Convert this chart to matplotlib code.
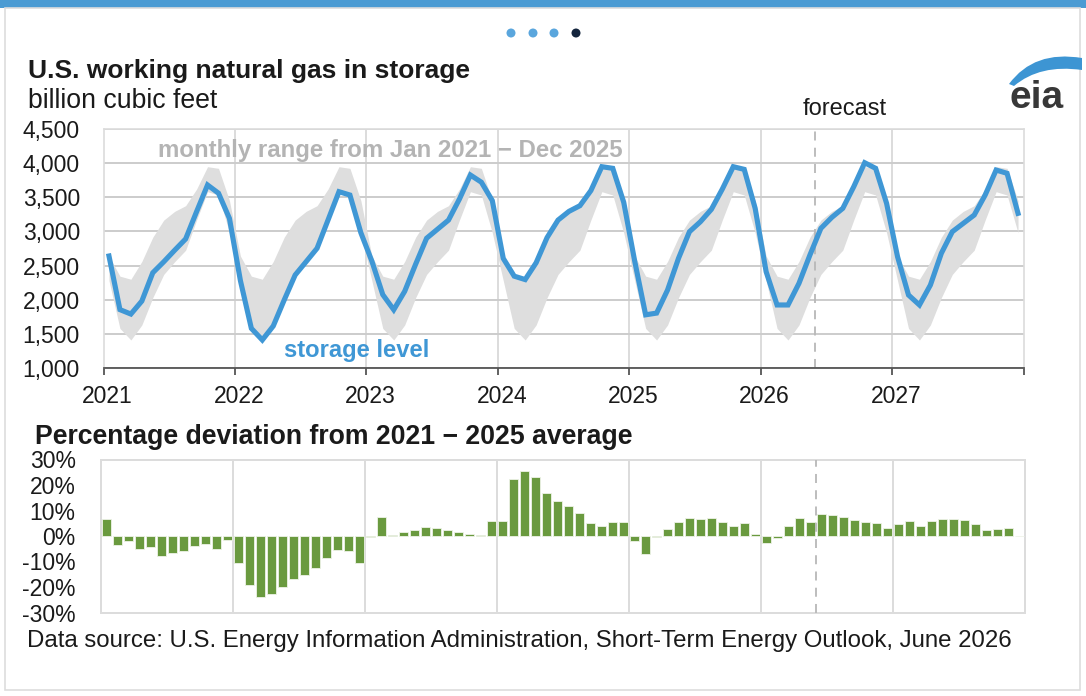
import matplotlib
matplotlib.use('Agg')
import matplotlib.pyplot as plt
import numpy as np
from matplotlib.patches import Rectangle, Circle, PathPatch
from matplotlib.path import Path
import matplotlib.transforms as mtransforms

plt.rcParams['font.family'] = ['Liberation Sans', 'DejaVu Sans']

# ---------------- data ----------------
years = [2021, 2022, 2023, 2024, 2025, 2026, 2027]
year_labels = ['2021', '2022', '2023', '2024', '2025', '2026', '2027']

storage_2021 = [2640, 1855, 1790, 1980, 2395, 2555, 2725, 2890, 3290, 3680, 3560, 3190]
storage_2022 = [2280, 1580, 1410, 1615, 1996, 2362, 2557, 2753, 3167, 3582, 3533, 2980]
storage_2023 = [2566, 2074, 1853, 2123, 2520, 2900, 3033, 3166, 3475, 3826, 3721, 3451]
storage_2024 = [2605, 2345, 2295, 2541, 2910, 3166, 3294, 3377, 3598, 3948, 3924, 3426]
storage_2025 = [2566, 1779, 1804, 2142, 2606, 2996, 3142, 3323, 3620, 3948, 3909, 3338]
storage_2026 = [2411, 1923, 1923, 2240, 2655, 3045, 3206, 3338, 3655, 4006, 3924, 3411]
storage_2027 = [2630, 2069, 1923, 2215, 2680, 2996, 3118, 3240, 3533, 3899, 3851, 3265]

# monthly range Jan 2021 - Dec 2025 (same for each calendar month)
range_low = [2280, 1580, 1410, 1630, 2030, 2370, 2557, 2725, 3167, 3582, 3533, 2980]
range_high = [2640, 2345, 2300, 2560, 2915, 3166, 3294, 3377, 3620, 3948, 3924, 3451]

dev_2021 = [6.7, -3.5, -1.8, -5.1, -4.4, -7.7, -6.5, -5.8, -3.8, -3.0, -5.0, -1.7]
dev_2022 = [-10.5, -19.1, -23.8, -22.7, -20.1, -17.0, -15.2, -12.7, -8.5, -5.5, -5.8, -10.6]
dev_2023 = [-0.3, 7.6, 0.4, 1.7, 2.2, 3.7, 3.0, 2.4, 1.4, 0.8, 0.4, 5.9]
dev_2024 = [5.9, 22.2, 25.5, 23.3, 16.9, 13.6, 11.9, 9.0, 5.1, 4.1, 5.4, 5.4]
dev_2025 = [-1.8, -7.2, -0.4, 2.7, 5.4, 6.9, 6.7, 7.2, 5.6, 3.9, 5.0, 0.8]
dev_2026 = [-2.7, -0.8, 4.1, 6.9, 5.4, 8.6, 8.2, 7.3, 6.4, 5.5, 5.1, 3.1]
dev_2027 = [4.8, 5.9, 3.9, 5.9, 6.7, 6.7, 6.3, 4.6, 2.4, 2.7, 3.1, -0.1]

storage_ticks = [1000, 1500, 2000, 2500, 3000, 3500, 4000, 4500]
storage_tick_labels = ['1,000', '1,500', '2,000', '2,500', '3,000', '3,500', '4,000', '4,500']
pct_ticks = [-30, -20, -10, 0, 10, 20, 30]
pct_tick_labels = ['-30%', '-20%', '-10%', '0%', '10%', '20%', '30%']
forecast_start = 2026 + 5 / 12  # June 2026

storage = (storage_2021 + storage_2022 + storage_2023 + storage_2024 +
           storage_2025 + storage_2026 + storage_2027)
deviation = dev_2021 + dev_2022 + dev_2023 + dev_2024 + dev_2025 + dev_2026 + dev_2027

# ---------------- layout ----------------
W, H = 1086, 696
fig = plt.figure(figsize=(W / 100, H / 100), dpi=100)
fig.patch.set_facecolor('white')


def fx(px):
    return px / W


def fy(py):
    return 1 - py / H


BLUE = '#3f97d5'
GREEN = '#6a9a3f'
GRID = '#cccccc'
VGRID = '#dcdcdc'
DARK = '#1a1a1a'

n = len(storage)
x = years[0] + (np.arange(n) + 0.5) / 12
xmin, xmax = years[0], years[-1] + 1

# frame decorations
fig.patches.append(Rectangle((0, fy(8)), 1, 8 / H, transform=fig.transFigure,
                             facecolor='#4b9bd3', edgecolor='none', zorder=0))
fig.patches.append(Rectangle((fx(5), fy(690)), fx(1080) - fx(5), fy(8) - fy(690),
                             transform=fig.transFigure, facecolor='none',
                             edgecolor='#dddddd', lw=1.2, zorder=0))
for cx, col in zip([511, 533, 554, 576], ['#5aa6dd', '#5aa6dd', '#5aa6dd', '#14253d']):
    fig.patches.append(Circle((cx, H - 33), 4.5, transform=None,
                              facecolor=col, edgecolor='none'))

# ---------------- top chart ----------------
ax = fig.add_axes([fx(103.5), fy(368), fx(1023.5) - fx(103.5), fy(129) - fy(368)])
ax.set_xlim(xmin, xmax)
ax.set_ylim(1000, 4500)
ax.fill_between(x, np.tile(range_low, len(years)), np.tile(range_high, len(years)),
                color='#dedede', lw=0, zorder=1)
ax.plot(x, storage, color=BLUE, lw=3.7, solid_joinstyle='miter', zorder=3)
ax.axvline(forecast_start, color='#b8b8b8', lw=1.3, ls=(0, (5, 4)), zorder=2)

ax.set_yticks(storage_ticks)
ax.set_yticklabels(storage_tick_labels)
ax.set_xticks(years + [years[-1] + 1])
ax.set_xticklabels(year_labels + [''])
ax.grid(axis='y', color=GRID, lw=1.4, zorder=0)
for yr in years[1:]:
    ax.axvline(yr, color=VGRID, lw=1.4, zorder=0)
ax.set_axisbelow(True)
for s in ['left', 'right', 'top']:
    ax.spines[s].set_color(VGRID)
    ax.spines[s].set_linewidth(1.2)
ax.spines['bottom'].set_color('#555555')
ax.spines['bottom'].set_linewidth(1.3)
ax.tick_params(axis='y', length=0, pad=17, labelsize=16.5, labelcolor=DARK)
ax.tick_params(axis='x', length=5, width=1.3, color='#555555', pad=7,
               labelsize=16.5, labelcolor=DARK)
offset = mtransforms.ScaledTranslation(4 / 100, 0, fig.dpi_scale_trans)
for lab in ax.get_xticklabels():
    lab.set_transform(lab.get_transform() + offset)

fig.text(fx(390), fy(150), 'monthly range from Jan 2021 \u2212 Dec 2025', color='#b4b4b4',
         fontsize=17.3, fontweight='bold', ha='center', va='center')
fig.text(fx(357), fy(350), 'storage level', color=BLUE, fontsize=17.1,
         fontweight='bold', ha='center', va='center')
fig.text(fx(845), fy(109), 'forecast', color=DARK, fontsize=17, ha='center', va='center')

# ---------------- bottom chart ----------------
ax2 = fig.add_axes([fx(100.7), fy(612.5), fx(1024.7) - fx(100.7), fy(459.5) - fy(612.5)])
ax2.set_xlim(xmin, xmax)
ax2.set_ylim(-30, 30)
ax2.bar(x, deviation, width=0.82 / 12, color=GREEN, edgecolor='#eef3e8', lw=0.6, zorder=3)
ax2.axvline(forecast_start, color='#b8b8b8', lw=1.3, ls=(0, (5, 4)), zorder=4)
for yr in years[1:]:
    ax2.axvline(yr, color=VGRID, lw=1.4, zorder=0)
ax2.set_xticks([])
ax2.set_yticks(pct_ticks)
ax2.set_yticklabels(pct_tick_labels)
for s in ax2.spines.values():
    s.set_color(VGRID)
    s.set_linewidth(1.4)
ax2.tick_params(axis='y', length=0, pad=18, labelsize=16.5, labelcolor=DARK)

# ---------------- titles ----------------
fig.text(fx(28), fy(71), 'U.S. working natural gas in storage', fontsize=19,
         fontweight='bold', color=DARK, ha='left', va='center')
fig.text(fx(28), fy(101), 'billion cubic feet', fontsize=19.2, color=DARK,
         ha='left', va='center')
fig.text(fx(35), fy(437), 'Percentage deviation from 2021 \u2212 2025 average', fontsize=19.2,
         fontweight='bold', color=DARK, ha='left', va='center')
fig.text(fx(27), fy(641), 'Data source: U.S. Energy Information Administration, '
         'Short-Term Energy Outlook, June 2026', fontsize=17.3, color=DARK,
         ha='left', va='center')

# eia logo
fig.text(fx(1037), fy(98), 'eia', fontsize=28, color='#383838', ha='center',
         va='center', fontweight='bold')
verts = [(1009, H - 84), (1034, H - 50), (1082, H - 58), (1082, H - 58),
         (1082, H - 70), (1082, H - 70), (1040, H - 64), (1014, H - 86), (1009, H - 84)]
codes = [Path.MOVETO, Path.CURVE3, Path.CURVE3, Path.LINETO,
         Path.LINETO, Path.LINETO, Path.CURVE3, Path.CURVE3, Path.CLOSEPOLY]
fig.patches.append(PathPatch(Path(verts, codes), transform=None,
                             facecolor='#3d95d3', edgecolor='none'))

fig.savefig('out.png', dpi=100)
